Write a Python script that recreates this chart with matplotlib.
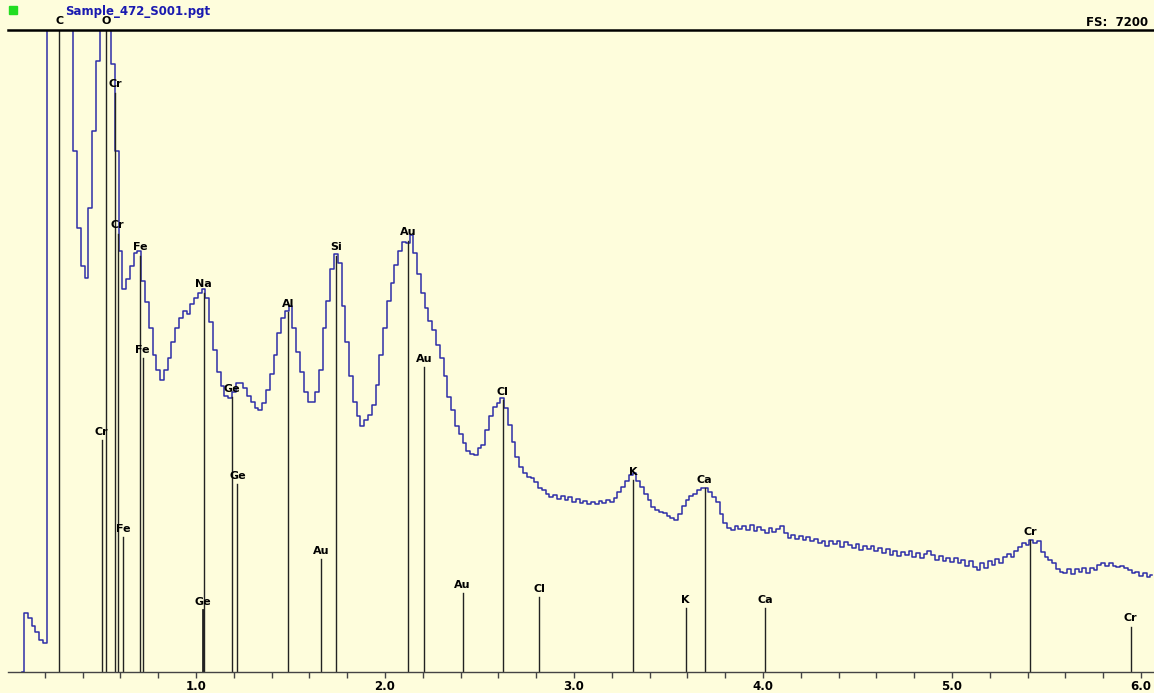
import numpy as np
from matplotlib import pyplot as plt

"""
Spectrum data (counts per 20 eV channel, first channel at 0.08 keV)
"""
title = 'Sample_472_S001.pgt'
full_scale = 7200
chan_start = 0.08
chan_width = 0.02

counts = [
    0, 661, 605, 515, 448, 358, 325, 9500, 12000, 13000,
    12500, 11000, 9500, 7800, 5846, 4984, 4558, 4424, 5208, 6070,
    6854, 8500, 9800, 8200, 6821, 5846, 4726, 4290, 4413, 4558,
    4704, 4726, 4390, 4144, 3853, 3550, 3382, 3270, 3382, 3517,
    3696, 3853, 3965, 4043, 4020, 4122, 4200, 4245, 4290, 4200,
    3920, 3606, 3360, 3203, 3091, 3069, 3136, 3237, 3237, 3181,
    3091, 3024, 2957, 2934, 3013, 3158, 3338, 3550, 3797, 3965,
    4054, 4110, 3853, 3584, 3360, 3136, 3024, 3024, 3136, 3382,
    3853, 4166, 4525, 4693, 4592, 4110, 3696, 3315, 3024, 2867,
    2755, 2822, 2878, 2990, 3214, 3550, 3853, 4166, 4368, 4570,
    4726, 4827, 4816, 4906, 4704, 4458, 4256, 4077, 3942, 3830,
    3662, 3517, 3315, 3080, 2934, 2755, 2666, 2565, 2475, 2442,
    2430, 2509, 2542, 2710, 2867, 2968, 3013, 3069, 2957, 2766,
    2576, 2408, 2296, 2229, 2184, 2173, 2128, 2061, 2038, 1994,
    1960, 1982, 1938, 1971, 1926, 1960, 1904, 1938, 1893, 1915,
    1882, 1904, 1882, 1915, 1893, 1926, 1904, 1949, 2016, 2072,
    2139, 2206, 2229, 2139, 2072, 1994, 1926, 1848, 1814, 1792,
    1781, 1747, 1725, 1702, 1770, 1859, 1926, 1971, 1994, 2038,
    2061, 2061, 2016, 1960, 1904, 1770, 1669, 1613, 1590, 1635,
    1602, 1635, 1590, 1646, 1579, 1624, 1590, 1557, 1613, 1568,
    1602, 1635, 1557, 1501, 1534, 1490, 1523, 1478, 1512, 1467,
    1490, 1445, 1467, 1411, 1467, 1434, 1467, 1400, 1456, 1422,
    1389, 1434, 1366, 1411, 1378, 1411, 1355, 1389, 1333, 1378,
    1310, 1355, 1299, 1344, 1310, 1355, 1288, 1333, 1277, 1322,
    1355, 1310, 1254, 1299, 1243, 1277, 1232, 1277, 1221, 1254,
    1187, 1243, 1176, 1142, 1221, 1165, 1243, 1198, 1266, 1221,
    1288, 1322, 1288, 1355, 1400, 1445, 1422, 1478, 1445, 1467,
    1344, 1288, 1254, 1221, 1154, 1120, 1109, 1154, 1098, 1154,
    1120, 1165, 1109, 1165, 1142, 1198, 1221, 1187, 1221, 1187,
    1176, 1187, 1165, 1142, 1109, 1120, 1075, 1109, 1064, 1086,
]

"""
KLM marker lines: element, energy (keV), marker height (counts)
"""
marker_labels = ['C', 'O', 'Cr', 'Cr', 'Cr', 'Fe', 'Fe', 'Fe',
                 'Na', 'Ge', 'Ge', 'Ge', 'Al', 'Au', 'Si',
                 'Au', 'Au', 'Au', 'Cl', 'Cl', 'K', 'K',
                 'Ca', 'Ca', 'Cr', 'Cr']
marker_energy = [0.277, 0.525, 0.573, 0.585, 0.500, 0.705, 0.718, 0.615,
                 1.041, 1.036, 1.188, 1.219, 1.487, 1.660, 1.740,
                 2.123, 2.205, 2.410, 2.622, 2.815, 3.313, 3.590,
                 3.691, 4.012, 5.414, 5.946]
marker_height = [7200, 7200, 6496, 4917, 2598, 4670, 3517, 1512,
                 4256, 694, 3080, 2106, 4032, 1266, 4670,
                 4838, 3416, 885, 3046, 840, 2150, 717,
                 2061, 717, 1478, 504]

bg = '#FEFDDC'
spec_color = '#2E2EA8'

energy = chan_start + chan_width * np.arange(len(counts))

fig = plt.figure(figsize=(11.54, 6.93), dpi=100, facecolor=bg)
ax = fig.add_axes([8/1154, 21/693, 1146/1154, 642/693])
ax.set_facecolor(bg)

ax.step(energy, counts, where='mid', color=spec_color, lw=1.1)

for lab, e, h in zip(marker_labels, marker_energy, marker_height):
    lw = 2.0 if (lab == 'Ge' and h < 1000) else 1.0
    ax.plot([e, e], [0, min(h, full_scale)], color='#222222', lw=lw)
    if h >= full_scale:
        ax.text(e, full_scale + 40, lab, ha='center', va='bottom',
                fontsize=8, fontweight='bold', clip_on=False)
    else:
        ax.text(e, h + 40, lab, ha='center', va='bottom',
                fontsize=8, fontweight='bold')

ax.set_xlim(0.005, 6.069)
ax.set_ylim(0, full_scale)

for s in ['left', 'right']:
    ax.spines[s].set_visible(False)
ax.spines['top'].set_color('black')
ax.spines['top'].set_linewidth(1.8)
ax.spines['bottom'].set_color('#444444')
ax.spines['bottom'].set_linewidth(1.0)

ax.set_yticks([])
ax.set_xticks([1, 2, 3, 4, 5, 6])
ax.set_xticklabels(['1.0', '2.0', '3.0', '4.0', '5.0', '6.0'],
                   fontsize=8.5, fontweight='bold')
ax.set_xticks(np.arange(0.2, 6.05, 0.2), minor=True)
ax.tick_params(axis='x', which='both', direction='out', length=4,
               width=1, color='#444444', pad=2)

fig.patches.append(plt.Rectangle((9/1154, 1 - 14/693), 8/1154, 8/693,
                                 transform=fig.transFigure,
                                 color='#22DD22', zorder=5))
fig.text(65/1154, 1 - 11/693, title, color='#1A1AB0', fontsize=8.5,
         fontweight='bold', va='center', ha='left')
fig.text(1148/1154, 1 - 22/693, f'FS:  {full_scale}', color='black',
         fontsize=8.5, fontweight='bold', va='center', ha='right')

plt.savefig('out.png', dpi=100, facecolor=bg)
